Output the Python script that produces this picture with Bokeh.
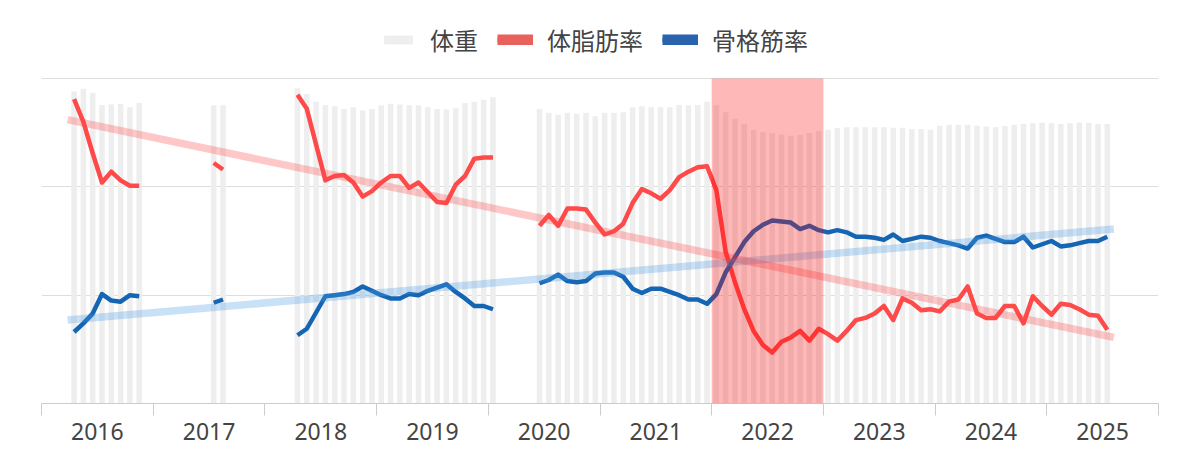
import numpy as np
from bokeh.plotting import figure
from bokeh.models import (ColumnDataSource, Range1d, FixedTicker, BoxAnnotation,
                          Legend, LegendItem)
from bokeh.embed import file_html
from bokeh.resources import INLINE

# ---- data: monthly body measurements ----
years = ["2016", "2017", "2018", "2019", "2020", "2021", "2022", "2023", "2024", "2025"]
highlight_year = "2022"

start_2016 = "2016-04"
weight_2016 = [76.8, 77.5, 76.5, 73.5, 73.6, 73.8, 72.9, 74.0]
fat_2016 = [38.1, 36.0, 33.1, 30.4, 31.4, 30.6, 30.1, 30.1]
muscle_2016 = [16.6, 17.4, 18.3, 20.1, 19.5, 19.4, 20.0, 19.9]

start_2017 = "2017-07"
weight_2017 = [73.4, 73.4]
fat_2017 = [32.2, 31.6]
muscle_2017 = [19.3, 19.6]

start_2018 = "2018-04"
weight_2018 = [77.6, 76.2, 74.3, 73.5, 73.2, 72.5, 72.9, 72.1, 72.5, 73.4, 73.8,
               73.6, 73.4, 73.4, 72.9, 72.5, 72.4, 72.7, 74.0, 74.3, 74.8, 75.4]
fat_2018 = [38.5, 37.2, 33.9, 30.6, 31.0, 31.1, 30.4, 29.1, 29.6, 30.4, 31.0,
            31.0, 29.9, 30.4, 29.5, 28.6, 28.5, 30.2, 31.0, 32.6, 32.7, 32.7]
muscle_2018 = [16.3, 16.9, 18.4, 19.9, 20.0, 20.1, 20.3, 20.8, 20.4, 20.0, 19.7,
               19.7, 20.1, 20.0, 20.4, 20.7, 21.0, 20.3, 19.7, 19.0, 19.0, 18.7]

start_2020 = "2020-06"
weight_2020 = [72.5, 71.6, 71.1, 71.6, 71.3, 71.6, 70.7, 71.6, 71.6, 71.7,
               72.9, 73.2, 72.9, 72.9, 72.9, 73.5, 73.4, 73.5, 74.3, 73.4,
               71.7, 70.1, 68.8, 67.4, 66.8, 66.5, 66.2, 65.9, 66.1, 66.6,
               67.0, 67.4, 67.8, 68.0, 68.0, 68.0, 68.0, 68.0, 67.9, 67.9,
               67.6, 67.6, 67.4, 68.4, 68.6, 68.6, 68.6, 68.4, 68.2, 68.0,
               68.3, 68.6, 68.8, 69.0, 69.1, 69.0, 68.8, 69.0, 69.2, 69.1,
               68.8, 68.8]
fat_2020 = [26.4, 27.4, 26.4, 28.0, 28.0, 27.9, 26.7, 25.6, 25.9, 26.6,
            28.5, 29.8, 29.4, 28.9, 29.7, 30.9, 31.4, 31.8, 31.9, 29.7,
            24.0, 21.2, 18.7, 16.7, 15.4, 14.7, 15.7, 16.1, 16.7, 15.8,
            16.9, 16.4, 15.8, 16.7, 17.7, 17.9, 18.3, 19.0, 17.7, 19.7,
            19.3, 18.6, 18.7, 18.5, 19.4, 19.6, 20.8, 18.3, 17.9, 17.9,
            19.0, 19.0, 17.4, 19.9, 19.0, 18.2, 19.2, 19.1, 18.7, 18.2,
            18.1, 16.8]
muscle_2020 = [21.1, 21.4, 21.9, 21.3, 21.2, 21.3, 22.0, 22.1, 22.1, 21.7,
               20.6, 20.2, 20.6, 20.6, 20.3, 20.0, 19.6, 19.6, 19.2, 20.1,
               22.1, 23.5, 24.9, 25.9, 26.5, 26.9, 26.8, 26.7, 26.1, 26.4,
               26.0, 25.8, 26.0, 25.8, 25.4, 25.4, 25.3, 25.1, 25.6, 25.0,
               25.2, 25.4, 25.3, 25.0, 24.8, 24.6, 24.3, 25.3, 25.5, 25.2,
               24.9, 24.9, 25.4, 24.4, 24.7, 25.0, 24.5, 24.6, 24.8, 25.0,
               25.0, 25.4]

# linear trend, value at first and last measured month
fat_trend = [36.2, 16.1]
muscle_trend = [17.7, 26.1]

# value axes (hidden): rate 10-40 %, weight 0-80 kg
rate_min, rate_max = 10, 40
weight_max = 80


def month_index(ym):
    y, m = ym.split("-")
    return (int(y) - int(years[0])) * 12 + int(m) - 1


blocks = [(start_2016, weight_2016, fat_2016, muscle_2016),
          (start_2017, weight_2017, fat_2017, muscle_2017),
          (start_2018, weight_2018, fat_2018, muscle_2018),
          (start_2020, weight_2020, fat_2020, muscle_2020)]

# one row per measured month, NaN rows break the lines between blocks
xs, ws, fs, ms = [], [], [], []
for start, w, f, m in blocks:
    if xs:
        xs.append(np.nan); ws.append(np.nan); fs.append(np.nan); ms.append(np.nan)
    xs += [float(month_index(start) + i) for i in range(len(w))]
    ws += w
    fs += f
    ms += m

line_source = ColumnDataSource(dict(x=xs, fat=fs, muscle=ms))
bar_x = [x for x in xs if not np.isnan(x)]
bar_w = [w for w in ws if not np.isnan(w)]
bar_source = ColumnDataSource(dict(x=bar_x, weight=bar_w))

trend_source = ColumnDataSource(dict(x=[bar_x[0] - 0.7, bar_x[-1] + 0.7], fat=fat_trend, muscle=muscle_trend))

n_months = len(years) * 12

# ---- figure ----
# the frame reaches up into the legend strip; data area is 325px tall
W, H = 1184, 455
top_border, bottom_border = 10, 52
data_px = 325
frame_px = H - top_border - bottom_border
rate_top = rate_min + (rate_max - rate_min) * frame_px / data_px
weight_top = weight_max * frame_px / data_px

p = figure(width=W, height=H, output_backend="svg", toolbar_location=None,
           x_range=Range1d(-0.5, n_months - 0.5), y_range=Range1d(rate_min, rate_top),
           min_border_left=41, min_border_right=26, min_border_top=top_border,
           min_border_bottom=bottom_border)
p.extra_y_ranges = {'weight': Range1d(0, weight_top)}
p.outline_line_color = None

bars = p.vbar(x='x', top='weight', width=0.6, source=bar_source, y_range_name='weight',
              fill_color='#eeeeee', line_color=None)

fat_color = '#ff4a4a'
muscle_color = '#1565b5'
fat_line = p.line(x='x', y='fat', source=line_source, line_color=fat_color, line_width=4.5, line_join='round')
muscle_line = p.line(x='x', y='muscle', source=line_source, line_color=muscle_color, line_width=4.5, line_join='round')

p.line(x='x', y='fat', source=trend_source, line_color=fat_color, line_alpha=0.3, line_width=7.5)
p.line(x='x', y='muscle', source=trend_source, line_color='#4a9be0', line_alpha=0.3, line_width=7.5)

# legend keys drawn as filled bars (no visible data)
key_source = ColumnDataSource(dict(x=[np.nan], y=[np.nan]))
fat_key = p.line(x='x', y='y', source=key_source, line_color='#e8615a', line_width=11)
muscle_key = p.line(x='x', y='y', source=key_source, line_color='#2b62ad', line_width=11)

# highlighted year
hy = month_index(highlight_year + "-01")
p.add_layout(BoxAnnotation(left=hy - 0.5, right=hy + 11.5, top=rate_max,
                           fill_color='#ff0000', fill_alpha=0.28, line_color=None))

# axes and grid
year_centers = [12 * i + 5.5 for i in range(len(years))]
year_edges = [12 * i - 0.5 for i in range(len(years) + 1)]
p.xaxis.ticker = FixedTicker(ticks=year_centers, minor_ticks=year_edges)
p.xaxis.major_label_overrides = {c: y for c, y in zip(year_centers, years)}
p.xaxis.major_tick_line_color = None
p.xaxis.minor_tick_line_color = '#cccccc'
p.xaxis.minor_tick_out = 12
p.xaxis.minor_tick_in = 0
p.xaxis.axis_line_color = '#cccccc'
p.xaxis.major_label_text_font = "Noto Sans"
p.xaxis.major_label_text_font_size = '23px'
p.xaxis.major_label_text_color = '#444444'
p.xaxis.major_label_standoff = 7
p.xgrid.visible = False

p.yaxis.visible = False
p.ygrid.ticker = FixedTicker(ticks=[20, 30, 40])
p.ygrid.grid_line_color = '#dddddd'

legend = Legend(items=[LegendItem(label="体重", renderers=[bars]),
                       LegendItem(label="体脂肪率", renderers=[fat_line, fat_key]),
                       LegendItem(label="骨格筋率", renderers=[muscle_line, muscle_key])],
                orientation='horizontal', location=(339, 346))
legend.label_text_font = "Noto Sans CJK JP"
legend.label_text_font_size = '24px'
legend.label_text_color = '#444444'
legend.glyph_width = 36
legend.glyph_height = 11
legend.label_standoff = 14
legend.spacing = 19
legend.padding = 0
legend.margin = 0
legend.border_line_color = None
legend.background_fill_alpha = 0
p.add_layout(legend)

open("out.html", "w").write(file_html(p, INLINE))
